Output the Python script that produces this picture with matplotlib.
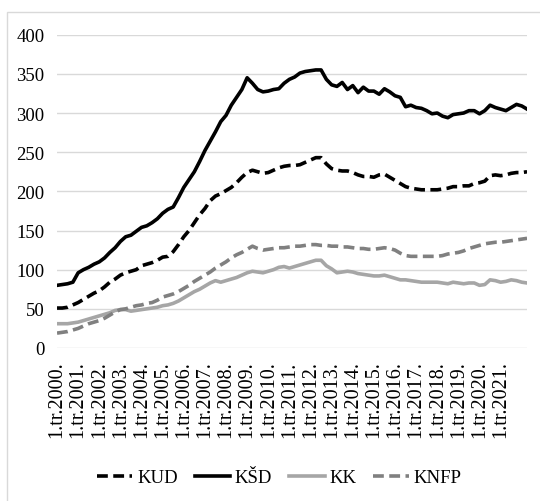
import matplotlib
matplotlib.use("Agg")
import matplotlib.patches as patches
import numpy as np
from matplotlib import pyplot as plt

# quarterly series, 1.tr.2000. .. 2.tr.2022.
kud = [51, 51, 52, 55, 58, 62, 66, 70, 73, 78, 84, 88, 93, 96, 98, 100, 105, 107, 109, 112,
       116, 117, 123, 132, 142, 150, 160, 170, 178, 188, 194, 197, 201, 205, 211, 218, 224, 227, 225, 223,
       224, 227, 230, 232, 233, 233, 234, 237, 240, 243, 243, 235, 229, 227, 226, 226, 224, 221, 219, 219,
       218, 221, 222, 218, 214, 210, 206, 204, 203, 202, 202, 202, 202, 203, 204, 206, 206, 207, 207, 210,
       211, 213, 220, 221, 220, 221, 223, 224, 224, 225]
ksd = [80, 81, 82, 84, 96, 100, 103, 107, 110, 115, 122, 128, 136, 142, 144, 149, 154, 156, 160, 165,
       172, 177, 180, 192, 205, 215, 225, 238, 252, 264, 276, 289, 297, 310, 320, 330, 345, 338, 330, 327,
       328, 330, 331, 338, 343, 346, 351, 353, 354, 355, 355, 343, 336, 334, 339, 330, 335, 326, 333, 328,
       328, 324, 331, 327, 322, 320, 308, 310, 307, 306, 303, 299, 300, 296, 294, 298, 299, 300, 303, 303,
       299, 303, 310, 307, 305, 303, 307, 311, 309, 305]
kk = [31, 31, 31, 32, 33, 35, 37, 39, 41, 43, 45, 48, 49, 49, 47, 48, 49, 50, 51, 52,
      54, 55, 57, 60, 64, 68, 72, 75, 79, 83, 86, 84, 86, 88, 90, 93, 96, 98, 97, 96,
      98, 100, 103, 104, 102, 104, 106, 108, 110, 112, 112, 105, 101, 96, 97, 98, 97, 95, 94, 93,
      92, 92, 93, 91, 89, 87, 87, 86, 85, 84, 84, 84, 84, 83, 82, 84, 83, 82, 83, 83,
      80, 81, 87, 86, 84, 85, 87, 86, 84, 83]
knfp = [19, 20, 21, 23, 25, 28, 31, 33, 35, 38, 42, 46, 49, 50, 52, 54, 55, 57, 58, 61,
        65, 67, 69, 72, 76, 80, 85, 89, 93, 97, 102, 106, 110, 115, 119, 122, 126, 130, 127, 125,
        126, 127, 128, 128, 129, 130, 130, 131, 132, 132, 131, 131, 130, 130, 129, 129, 128, 127, 127, 126,
        126, 127, 128, 127, 125, 121, 118, 117, 117, 117, 117, 117, 117, 118, 120, 121, 122, 124, 127, 129,
        131, 133, 134, 135, 135, 136, 137, 138, 139, 140]

years = list(range(2000, 2022))
tick_labels = [f"1.tr.{y}." for y in years]

plt.rcParams["font.family"] = ["Liberation Serif", "DejaVu Serif"]

fig = plt.figure(figsize=(5.4, 5.02), dpi=100)
ax = fig.add_axes([0.1056, 0.3048, 0.8704, 0.6241])

x = np.arange(len(ksd))
dash = (0, (3.0, 1.5))
lw = 2.6
ax.plot(x, kud, color="black", lw=lw, linestyle=dash, label="KUD")
ax.plot(x, ksd, color="black", lw=lw, label="KŠD")
ax.plot(x, kk, color="#a6a6a6", lw=lw, label="KK")
ax.plot(x, knfp, color="#808080", lw=lw, linestyle=dash, label="KNFP")

ax.set_xlim(0, len(ksd) - 1)
ax.set_ylim(0, 400)
ax.set_yticks(range(0, 401, 50))
ax.set_xticks(np.arange(len(years)) * 4)
ax.set_xticklabels(tick_labels, rotation=90, fontsize=14.5)
ax.tick_params(axis="y", labelsize=13.5, length=0, pad=9)
ax.tick_params(axis="x", length=0, pad=9)
ax.grid(axis="y", color="#d9d9d9", lw=1)
ax.set_axisbelow(True)
for s in ax.spines.values():
    s.set_visible(False)

fig.legend(loc="center", bbox_to_anchor=(0.517, 0.046), ncol=4, frameon=False,
           fontsize=13.5, handlelength=1.9, handletextpad=0.25, columnspacing=0.9)

# light frame round the chart area
fig.patches.append(patches.Rectangle((0.013, -0.1), 1.2, 1.074, transform=fig.transFigure,
                                     fill=False, edgecolor="#d9d9d9", lw=1))

fig.savefig("out.png", dpi=100)
